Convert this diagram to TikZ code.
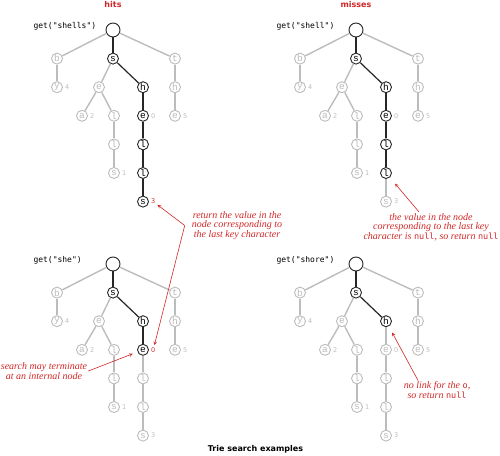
\documentclass[tikz,border=0pt]{standalone}
\usepackage{fontspec}
\setmainfont{Liberation Serif}
\setsansfont{DejaVu Sans}
\setmonofont{DejaVu Sans Mono}
\newfontfamily\trienodefont{Liberation Mono}
\usetikzlibrary{positioning,arrows}
\definecolor{hitred}{RGB}{210,38,38}
\definecolor{faded}{RGB}{188,188,188}

\begin{document}
\begin{tikzpicture}[
    x=1pt, y=-1pt,
    node distance=28.6pt and 30pt, on grid,
    on/.style={circle, draw=black!85, text=black, line width=0.9pt, fill=white, inner sep=0pt, minimum size=11pt, font=\trienodefont\fontsize{9.5}{9.5}\selectfont},
    off/.style={on, draw=faded, text=faded},
    onpath/.code={\ifnum#1>\reach\relax\tikzset{off}\else\tikzset{on}\fi},
    link/.style={draw=faded, line width=1.4pt},
    pathlink/.code={\ifnum#1>\reach\relax\tikzset{link}\else\tikzset{link, draw=black!85, line width=1.2pt}\fi},
    value/.style={anchor=west, inner sep=2pt, text=faded, font=\sffamily\fontsize{6.5}{6.5}\selectfont},
    found/.code={\ifnum#1=\reach\relax\tikzset{value, text=hitred}\else\tikzset{value}\fi},
    key/.style={anchor=west, font=\ttfamily\fontsize{8}{8}\selectfont},
    heading/.style={font=\sffamily\bfseries\fontsize{8}{8}\selectfont},
    note/.style={text=hitred, align=center, inner sep=1pt, font=\itshape\fontsize{10}{9.6}\selectfont},
    arrow/.style={->, >=stealth, hitred, line width=0.6pt}
]
\useasboundingbox (0,0) rectangle (500,455);

% Headings
\node[heading, text=hitred] (hits) at (113,5) {hits};
\node[heading, text=hitred] (misses) at (356,5) {misses};
\node[heading] (caption) at (255.5,449) {Trie search examples};

% One trie per search key, \reach = depth the search gets to
\foreach \p/\sx/\sy/\reach in {shells/0/0/7, shell/243/0/6, she/0/234/4, shore/243/234/3} {
\begin{scope}[shift={(\sx,\sy)}]
\node[key] (\p-key) at (30,26) {get("\p")};

% Nodes
\node[onpath=1, minimum size=14pt] (\p-root) at (113,30) {};
\node[onpath=2] (\p-s) [below=of \p-root] {s};
\node[off] (\p-b) [below left=28.6pt and 56pt of \p-root] {b};
\node[off] (\p-t) [below right=28.6pt and 62pt of \p-root] {t};
\node[off] (\p-by) [below=of \p-b] {y};
\node[off] (\p-se) [below left=28.6pt and 14pt of \p-s] {e};
\node[onpath=3] (\p-sh) [below right=28.6pt and 30pt of \p-s] {h};
\node[off] (\p-th) [below=of \p-t] {h};
\node[off] (\p-sea) [below left=28.6pt and 17pt of \p-se] {a};
\node[off] (\p-sel) [below right=28.6pt and 15pt of \p-se] {l};
\node[onpath=4] (\p-she) [below=of \p-sh] {e};
\node[off] (\p-the) [below=of \p-th] {e};
\node[off] (\p-sell) [below=of \p-sel] {l};
\node[onpath=5] (\p-shel) [below=of \p-she] {l};
\node[off] (\p-sells) [below=of \p-sell] {s};
\node[onpath=6] (\p-shell) [below=of \p-shel] {l};
\node[onpath=7] (\p-shells) [below=of \p-shell] {s};

% Links
\foreach \a/\b in {root/b, root/t, b/by, s/se, t/th, se/sea, se/sel, th/the, sel/sell, sell/sells}
  \draw[link] (\p-\a) -- (\p-\b);
\foreach \a/\b/\n in {root/s/2, s/sh/3, sh/she/4, she/shel/5, shel/shell/6, shell/shells/7}
  \draw[pathlink=\n] (\p-\a) -- (\p-\b);

% Values
\node[value] (\p-by-val) at (\p-by.east) {4};
\node[value] (\p-sea-val) at (\p-sea.east) {2};
\node[value] (\p-sells-val) at (\p-sells.east) {1};
\node[found=4] (\p-she-val) at (\p-she.east) {0};
\node[value] (\p-the-val) at (\p-the.east) {5};
\node[found=7] (\p-shells-val) at (\p-shells.east) {3};
\end{scope}
}

% Notes
\node[note] (retnote) at (237,225.5) {return the value in the\\node corresponding to\\the last key character};
\coordinate (fork) at ([xshift=-6pt]retnote.west);
\draw[arrow] (fork) -- (shells-shells-val);
\draw[arrow] (fork) -- (she-she-val);

\node[note] (nullnote) at (431,227) {the value in the node\\corresponding to the last key\\character is {\upshape\ttfamily\fontsize{8.5}{9.6}\selectfont null}, so return {\upshape\ttfamily\fontsize{8.5}{9.6}\selectfont null}};
\draw[arrow, shorten >=8pt] ([xshift=-12pt]nullnote.north) -- (shell-shell);

\node[note] (internal) at (44,371) {search may terminate\\at an internal node};
\draw[arrow, shorten >=5pt] (internal.east) -- (she-she);

\node[note] (nolink) at (437,390) {no link for the {\upshape\ttfamily\fontsize{8.5}{9.6}\selectfont o},\\so return {\upshape\ttfamily\fontsize{8.5}{9.6}\selectfont null}};
\draw[arrow, shorten >=7pt] ([xshift=-19pt]nolink.north) -- (shore-sh);

\end{tikzpicture}
\end{document}
